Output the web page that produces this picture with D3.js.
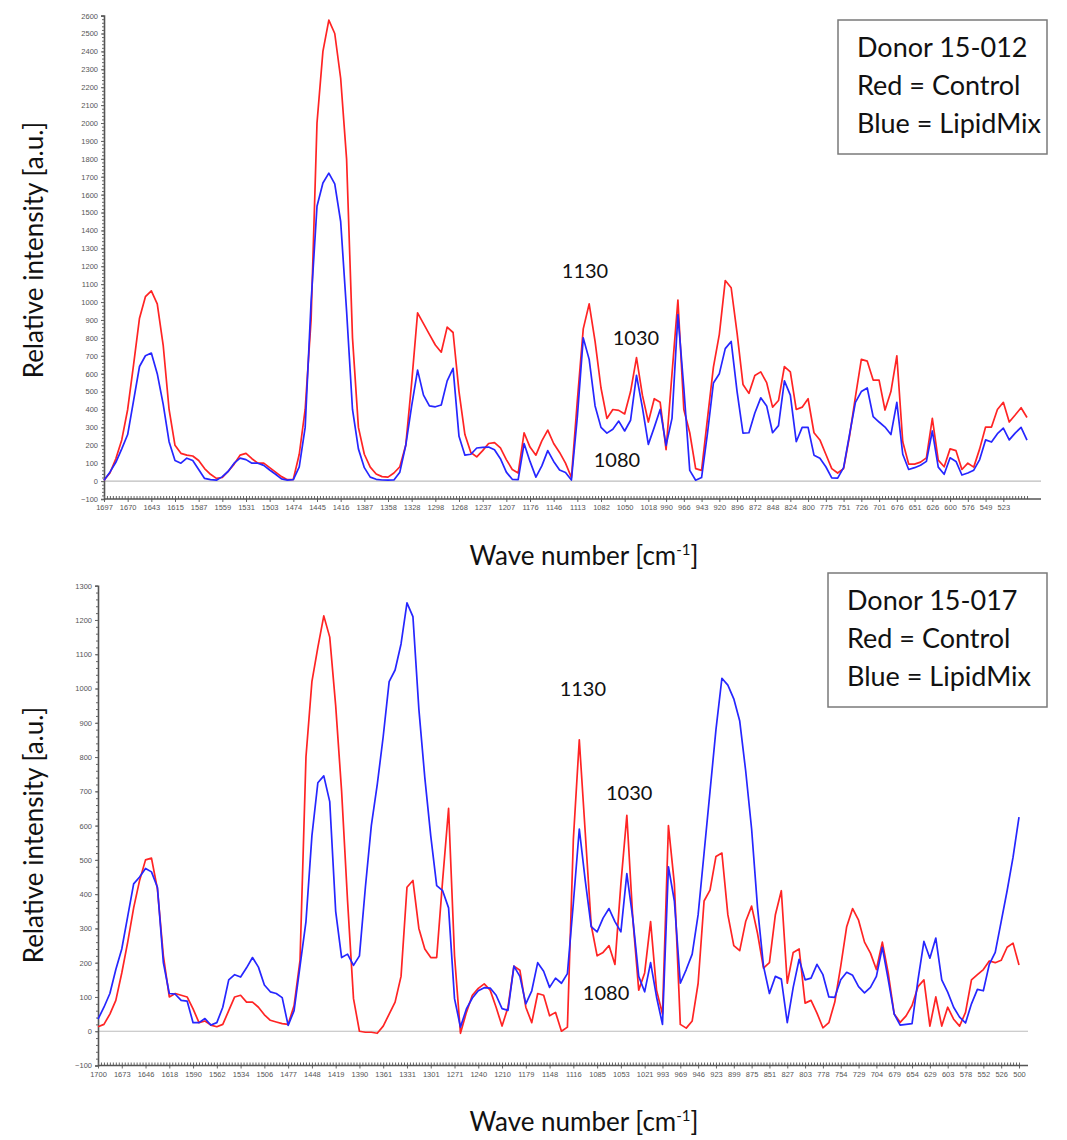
<!DOCTYPE html>
<html>
<head>
<meta charset="utf-8">
<script src="https://cdn.jsdelivr.net/npm/d3@7"></script>
<style>
  body { margin: 0; background: #fff; }
  svg { display: block; }
</style>
</head>
<body>
<div id="chart-area"></div>
<script>
// Raman spectra of two donors, Control (red) vs LipidMix (blue)
// x axis is the detector point index, labelled with the wavenumber at some points

// ---- top panel data (donor 15-012) ----
var topLabels = ["1697","1670","1643","1615","1587","1559","1531","1503","1474","1445","1416","1387",
                 "1358","1328","1298","1268","1237","1207","1176","1146","1113","1082","1050","1018",
                 "990","966","943","920","896","872","848","824","800","775","751","726","701","676",
                 "651","626","600","576","549","523"];
var topRed = [5,45,125,230,400,650,910,1030,1063,990,760,400,200,155,145,140,115,70,38,15,
              20,55,95,145,155,125,100,100,75,50,25,8,10,150,400,900,2000,2400,2575,2500,
              2250,1800,800,300,150,78,40,25,22,45,80,200,550,940,880,820,760,720,860,830,
              500,260,160,135,170,210,215,185,120,65,45,270,190,145,225,285,210,160,100,20,
              450,850,990,780,520,350,400,395,375,500,690,480,330,460,440,175,600,1011,400,270,
              70,60,350,637,820,1120,1080,827,540,490,590,610,550,413,450,640,610,400,413,460,
              270,230,150,70,45,70,250,470,680,670,564,564,397,500,700,220,95,95,106,130,
              350,117,80,180,170,65,100,78,180,302,302,400,440,330,369,410,355];
var topBlue = [5,50,105,180,260,450,640,700,715,600,430,220,115,100,128,115,65,15,8,5,
               25,55,100,128,120,100,100,88,62,38,12,5,8,80,300,1000,1535,1665,1720,1660,
               1450,950,400,180,75,22,10,6,5,6,50,200,420,620,480,420,415,425,560,630,
               250,145,150,185,188,190,175,125,50,10,8,210,110,22,85,170,110,62,48,6,
               358,800,680,420,300,268,290,335,280,340,590,410,205,300,400,200,350,930,520,60,
               5,20,268,548,600,740,780,500,268,270,380,465,420,270,310,560,480,220,300,300,
               145,128,80,18,17,75,260,440,500,520,360,330,302,260,440,150,65,75,89,110,
               280,78,38,130,110,34,45,61,120,230,218,265,296,230,268,300,229];

// ---- bottom panel data (donor 15-017) ----
var bottomLabels = ["1700","1673","1646","1618","1590","1562","1534","1506","1477","1448","1419","1390",
                    "1361","1331","1301","1271","1240","1210","1179","1148","1116","1085","1053","1021",
                    "993","969","946","923","899","875","851","827","803","778","754","729","704","679",
                    "654","629","603","578","552","526","500"];
var bottomRed = [13,20,50,90,170,260,360,440,500,505,415,220,100,110,105,100,65,25,30,18,
                 13,20,60,100,105,85,85,70,48,32,27,22,20,75,207,800,1020,1120,1212,1150,
                 950,700,380,95,0,-3,-3,-6,15,50,85,160,420,440,300,240,215,215,440,650,
                 220,-6,55,105,125,138,120,70,15,70,190,178,70,25,110,105,45,55,0,12,
                 560,850,580,310,220,230,250,195,430,630,330,120,170,320,120,50,600,430,20,9,
                 30,140,380,412,510,520,340,250,235,320,365,285,184,200,340,410,140,230,240,82,
                 90,53,10,25,85,190,305,358,324,260,228,180,260,169,50,26,45,75,130,150,
                 15,100,15,70,35,15,55,150,165,180,205,200,207,245,257,193];
var bottomBlue = [35,70,110,180,240,335,430,450,475,465,420,200,110,108,90,88,25,25,37,18,
                  25,70,150,165,158,185,215,187,135,115,110,98,17,60,190,320,570,725,745,670,
                  350,215,225,192,220,420,600,720,860,1020,1054,1130,1250,1210,940,740,570,425,410,360,
                  95,12,65,97,118,127,126,105,66,61,190,160,80,118,200,175,128,155,140,168,
                  374,590,440,305,290,330,358,320,290,460,330,160,115,200,100,20,480,380,140,180,
                  225,340,520,700,880,1030,1010,970,905,760,590,360,190,110,160,152,25,128,210,150,
                  155,195,165,100,99,150,172,163,130,112,128,160,245,150,50,18,20,22,150,262,
                  213,272,150,114,70,41,24,80,122,118,195,230,320,410,508,625];

// 4-digit labels every 4 points, 3-digit labels every 3 points
function labelIndex(labels) {
  var idx = [], i = 0;
  labels.forEach(function(l, k) {
    if (k > 0) i += (l.length == 4) ? 4 : 3;
    idx.push(i);
  });
  return idx;
}

var panels = [
  { red: topRed, blue: topBlue, labels: topLabels,
    yMin: -100, yMax: 2600, yTop: 15.6, yBottom: 499, xLeft: 104, xRight: 1027, axisEnd: 1041,
    legend: ["Donor 15-012", "Red = Control", "Blue = LipidMix"],
    box: {x: 838, y: 20, w: 209, h: 134},
    notes: [{t: "1130", i: 81.3, v: 1134}, {t: "1030", i: 89.9, v: 760}, {t: "1080", i: 86.7, v: 78}],
    yTitle: 250, xTitle: 565 },
  { red: bottomRed, blue: bottomBlue, labels: bottomLabels,
    yMin: -100, yMax: 1300, yTop: 585.7, yBottom: 1065.5, xLeft: 98, xRight: 1019, axisEnd: 1028,
    legend: ["Donor 15-017", "Red = Control", "Blue = LipidMix"],
    box: {x: 828, y: 573, w: 219, h: 134},
    notes: [{t: "1130", i: 81.6, v: 978}, {t: "1030", i: 89.4, v: 675}, {t: "1080", i: 85.5, v: 90}],
    yTitle: 835, xTitle: 1131 }
];

var svg = d3.select("#chart-area").append("svg")
            .attr("width", 1067)
            .attr("height", 1140);

panels.forEach(function(p) {
  var n = p.red.length;
  var x = d3.scaleLinear().domain([0, n - 1]).range([p.xLeft, p.xRight]);
  var y = d3.scaleLinear().domain([p.yMin, p.yMax]).range([p.yBottom, p.yTop]);
  var g = svg.append("g");

  // zero line
  g.append("line")
   .attr("x1", p.xLeft).attr("x2", p.axisEnd)
   .attr("y1", y(0)).attr("y2", y(0))
   .attr("stroke", "#bdbdbd").attr("stroke-width", 1.2);

  // y axis, major every 100, minor every 20
  var yAxis = d3.axisLeft(y)
                .tickValues(d3.range(p.yMin, p.yMax + 1, 100))
                .tickFormat(d3.format("d"))
                .tickSize(3)
                .tickPadding(3);
  var yAxisG = g.append("g")
                .attr("transform", "translate(" + p.xLeft + ",0)")
                .call(yAxis);
  g.append("g")
   .attr("transform", "translate(" + p.xLeft + ",0)")
   .call(d3.axisLeft(y).tickValues(d3.range(p.yMin, p.yMax + 1, 20)).tickSize(2).tickFormat(""))
   .select(".domain").remove();

  // x axis, label ticks plus a hatch tick on every half point
  var idx = labelIndex(p.labels);
  var xAxis = d3.axisBottom(x)
                .tickValues(idx)
                .tickFormat(function(d, k) { return p.labels[k]; })
                .tickSize(3)
                .tickPadding(3);
  var xAxisG = g.append("g")
                .attr("transform", "translate(0," + p.yBottom + ")")
                .call(xAxis);
  xAxisG.select(".domain").remove();
  g.append("g")
   .attr("transform", "translate(0," + p.yBottom + ")")
   .call(d3.axisTop(x).tickValues(d3.range(0, n - 0.5, 0.5)).tickSize(3).tickFormat(""))
   .select(".domain").remove();
  g.append("line")
   .attr("x1", p.xLeft).attr("x2", p.axisEnd)
   .attr("y1", p.yBottom).attr("y2", p.yBottom)
   .attr("stroke", "#555").attr("stroke-width", 1.6);

  g.selectAll(".tick line").attr("stroke", "#666");
  yAxisG.select(".domain").attr("stroke", "#555").attr("stroke-width", 1.6);
  g.selectAll(".tick text")
   .attr("font-family", "Liberation Sans, Arial, sans-serif")
   .attr("font-size", "7.5px")
   .attr("fill", "#555");

  // spectra
  var line = d3.line()
               .x(function(d, i) { return x(i); })
               .y(function(d) { return y(d); });
  g.append("path").datum(p.red)
   .attr("fill", "none").attr("stroke", "#ff2424").attr("stroke-width", 1.7)
   .attr("stroke-linejoin", "round").attr("d", line);
  g.append("path").datum(p.blue)
   .attr("fill", "none").attr("stroke", "#2626ff").attr("stroke-width", 1.7)
   .attr("stroke-linejoin", "round").attr("d", line);

  // peak notes
  p.notes.forEach(function(nt) {
    g.append("text")
     .attr("x", x(nt.i)).attr("y", y(nt.v))
     .attr("text-anchor", "middle")
     .attr("font-family", "Lato, sans-serif")
     .attr("font-size", "20px")
     .attr("fill", "#111")
     .text(nt.t);
  });

  // legend box
  g.append("rect")
   .attr("x", p.box.x).attr("y", p.box.y)
   .attr("width", p.box.w).attr("height", p.box.h)
   .attr("fill", "#fff").attr("stroke", "#7a7a7a").attr("stroke-width", 1.5);
  p.legend.forEach(function(t, k) {
    g.append("text")
     .attr("x", p.box.x + 19).attr("y", p.box.y + 37 + k * 38)
     .attr("font-family", "Lato, sans-serif")
     .attr("font-size", "27px")
     .attr("fill", "#111")
     .text(t);
  });

  // axis titles
  g.append("text")
   .attr("transform", "translate(43," + p.yTitle + ") rotate(-90)")
   .attr("text-anchor", "middle")
   .attr("font-family", "Lato, sans-serif")
   .attr("font-size", "26px")
   .attr("fill", "#111")
   .text("Relative intensity [a.u.]");
  var xt = g.append("text")
            .attr("x", 584).attr("y", p.xTitle)
            .attr("text-anchor", "middle")
            .attr("font-family", "Lato, sans-serif")
            .attr("font-size", "26px")
            .attr("fill", "#111");
  xt.append("tspan").text("Wave number [cm");
  xt.append("tspan").attr("font-size", "15px").attr("dy", -10).text("-1");
  xt.append("tspan").attr("dy", 10).text("]");
});
</script>
</body>
</html>
